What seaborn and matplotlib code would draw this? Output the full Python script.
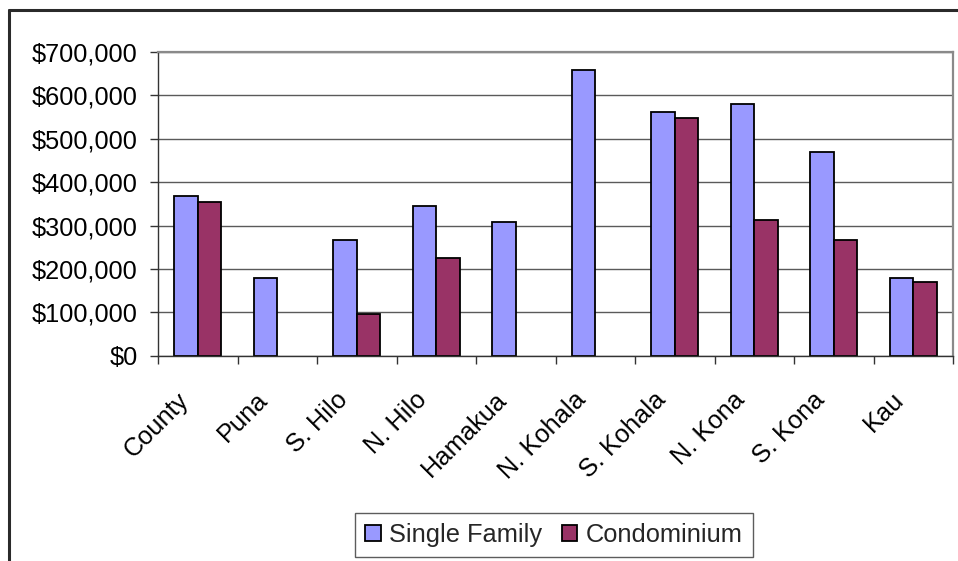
import matplotlib
matplotlib.use("Agg")
import matplotlib.pyplot as plt
from matplotlib.lines import Line2D
from matplotlib.patches import Patch
from matplotlib.ticker import FuncFormatter, FixedLocator
from matplotlib.transforms import ScaledTranslation
import numpy as np
import pandas as pd
import seaborn as sns

# Median sale prices by district
districts = ["County", "Puna", "S. Hilo", "N. Hilo", "Hamakua",
             "N. Kohala", "S. Kohala", "N. Kona", "S. Kona", "Kau"]
single_family = [369000, 180000, 267000, 346000, 308000,
                 658000, 562000, 581000, 470000, 179000]
condominium = [354000, np.nan, 97000, 225000, np.nan,
               np.nan, 548000, 313000, 267000, 170000]
series_names = ["Single Family", "Condominium"]
y_ticks = [0, 100000, 200000, 300000, 400000, 500000, 600000, 700000]

df = pd.DataFrame({
    "District": districts * 2,
    "Type": [series_names[0]] * len(districts) + [series_names[1]] * len(districts),
    "Price": single_family + condominium,
})

sns.set_theme(style="white")
plt.rcParams["font.family"] = ["Liberation Sans", "DejaVu Sans"]

colors = ["#9999FF", "#993366"]
fs = 18.3

fig = plt.figure(figsize=(9.58, 5.61), dpi=100)
ax = fig.add_axes([158 / 958, 1 - 355.7 / 561, (953 - 158) / 958, (355.7 - 52) / 561])

sns.barplot(data=df, x="District", y="Price", hue="Type", order=districts,
            hue_order=series_names, palette=colors, width=0.59, gap=0,
            edgecolor="black", linewidth=1.3, saturation=1, legend=False, ax=ax)

ax.set_ylim(0, 700000)
ax.set_xlim(-0.5, len(districts) - 0.5)
ax.yaxis.set_major_locator(FixedLocator(y_ticks))
ax.yaxis.set_major_formatter(FuncFormatter(lambda v, _: f"${v:,.0f}"))
ax.set_xlabel("")
ax.set_ylabel("")

# gridlines
ax.set_axisbelow(True)
ax.yaxis.grid(True, color="#5a5a5a", linewidth=1.0)
ax.xaxis.grid(False)

# spines
for side in ["top", "right"]:
    ax.spines[side].set_color("#8a8a8a")
    ax.spines[side].set_linewidth(1.6)
ax.spines["left"].set_color("#333333")
ax.spines["left"].set_linewidth(1.0)
ax.spines["bottom"].set_color("#333333")
ax.spines["bottom"].set_linewidth(1.0)

# ticks
ax.tick_params(axis="y", which="major", left=True, length=6, width=1,
               color="#333333", direction="out", pad=8.5, labelsize=fs,
               labelcolor="black")
ax.set_xticks(range(len(districts)))
ax.set_xticklabels(districts, rotation=45, ha="right", va="center",
                   rotation_mode="anchor")
ax.tick_params(axis="x", which="major", bottom=False, length=0, pad=22,
               labelsize=fs, labelcolor="black")
shift = ScaledTranslation(-13 / 100, -10 / 100, fig.dpi_scale_trans)
for lbl in ax.get_xticklabels():
    lbl.set_transform(lbl.get_transform() + shift)
ax.set_xticks(np.arange(-0.5, len(districts) + 0.5, 1), minor=True)
ax.tick_params(axis="x", which="minor", bottom=True, length=6, width=1,
               color="#333333", direction="out")

# legend
handles = [Patch(facecolor=c, edgecolor="black", linewidth=1.3) for c in colors]
leg = fig.legend(handles, series_names, loc="center", bbox_to_anchor=(554 / 958, 1 - 535 / 561),
                 ncol=2, frameon=True, fancybox=False, fontsize=fs,
                 handlelength=0.6, handleheight=0.6, handletextpad=0.35,
                 columnspacing=0.75, borderpad=0.4)
leg.get_frame().set_edgecolor("#333333")
leg.get_frame().set_linewidth(1.0)

# outer chart frame
fig.add_artist(Line2D([9 / 958, 1.0], [1 - 10 / 561, 1 - 10 / 561],
                      color="#2a2a2a", linewidth=2.2, transform=fig.transFigure))
fig.add_artist(Line2D([9 / 958, 9 / 958], [0.0, 1 - 10 / 561],
                      color="#2a2a2a", linewidth=2.2, transform=fig.transFigure))

fig.savefig("out.png", dpi=100, facecolor="white")
